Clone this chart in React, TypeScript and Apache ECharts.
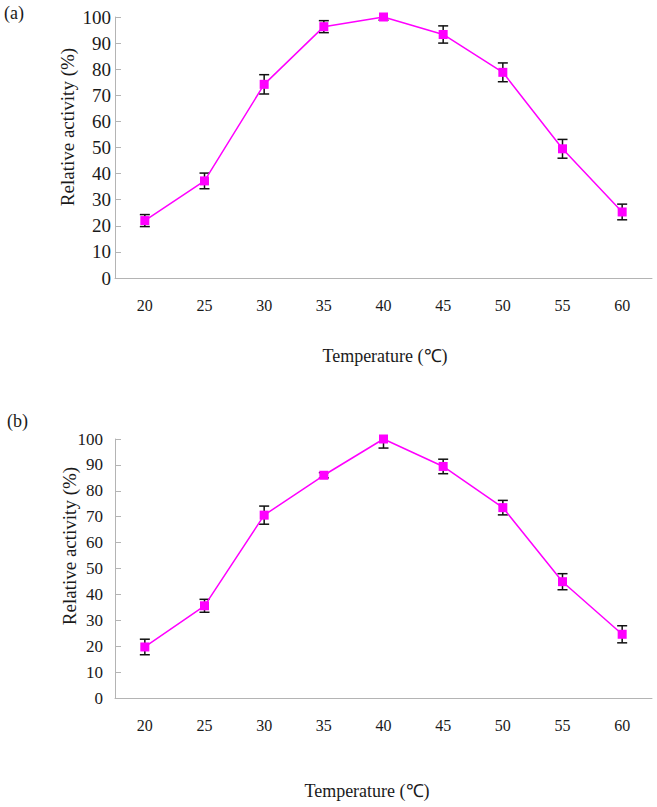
import React, { useEffect, useRef } from "react";
import * as echarts from "echarts";

const temperatures = ["20", "25", "30", "35", "40", "45", "50", "55", "60"];
const activityA = [22, 37.2, 74.2, 96.3, 100, 93.3, 78.8, 49.5, 25.3];
const errorA = [2.3, 3, 3.7, 2.3, 1.2, 3.3, 3.6, 3.6, 3];
const activityB = [19.7, 35.6, 70.6, 86, 100, 89.4, 73.5, 44.9, 24.6];
const errorB = [3, 2.5, 3.5, 1, 3.5, 2.8, 2.8, 3.1, 3.3];
const yTicks = [0, 10, 20, 30, 40, 50, 60, 70, 80, 90, 100];

const FONT = "Liberation Serif";
const AXIS_COLOR = "#b4b4b4";
const TEXT_COLOR = "#1a1a1a";
const MAGENTA = "#ff00ff";

function errRender(params: any, api: any) {
  const idx = api.value(0);
  const lo = api.coord([idx, api.value(1)]);
  const hi = api.coord([idx, api.value(2)]);
  const w = 5;
  const style = { stroke: "#111", lineWidth: 1.5 };
  return {
    type: "group",
    children: [
      { type: "line", shape: { x1: lo[0], y1: lo[1], x2: hi[0], y2: hi[1] }, style },
      { type: "line", shape: { x1: lo[0] - w, y1: lo[1], x2: lo[0] + w, y2: lo[1] }, style },
      { type: "line", shape: { x1: hi[0] - w, y1: hi[1], x2: hi[0] + w, y2: hi[1] }, style },
    ],
  };
}

function xAxisFor(gridIndex: number) {
  return {
    type: "category",
    gridIndex,
    data: temperatures,
    boundaryGap: true,
    axisLine: { lineStyle: { color: AXIS_COLOR, width: 1 } },
    axisTick: { inside: true, length: 5, lineStyle: { color: AXIS_COLOR } },
    axisLabel: { color: TEXT_COLOR, fontFamily: FONT, fontSize: 16, margin: 19 },
    splitLine: { show: false },
  };
}

function yAxisFor(gridIndex: number, fontSize: number, margin: number) {
  return {
    type: "value",
    gridIndex,
    min: yTicks[0],
    max: yTicks[yTicks.length - 1],
    interval: 10,
    axisLine: { show: true, lineStyle: { color: AXIS_COLOR, width: 1 } },
    axisTick: { show: true, inside: true, length: 6, lineStyle: { color: AXIS_COLOR } },
    axisLabel: { color: TEXT_COLOR, fontFamily: FONT, fontSize, margin },
    splitLine: { show: false },
  };
}

function txt(text: string, x: number, y: number, rotate = false, align = "center", size = 18) {
  return {
    type: "text",
    x,
    y,
    rotation: rotate ? Math.PI / 2 : 0,
    style: {
      text,
      fill: TEXT_COLOR,
      fontFamily: FONT,
      fontSize: size,
      align,
      verticalAlign: "middle",
    },
  };
}

export default function App() {
  const ref = useRef<HTMLDivElement>(null);
  useEffect(() => {
    if (!ref.current) return;
    const chart = echarts.init(ref.current, undefined, { renderer: "svg" });
    const errDataA = activityA.map((v, i) => [i, v - errorA[i], v + errorA[i]]);
    const errDataB = activityB.map((v, i) => [i, v - errorB[i], v + errorB[i]]);
    chart.setOption({
      animation: false,
      backgroundColor: "#ffffff",
      grid: [
        { left: 115, top: 17, width: 537, height: 261 },
        { left: 115, top: 439, width: 537, height: 259 },
      ],
      xAxis: [xAxisFor(0), xAxisFor(1)],
      yAxis: [yAxisFor(0, 19, 4), yAxisFor(1, 17, 12)],
      series: [
        {
          type: "custom",
          xAxisIndex: 0,
          yAxisIndex: 0,
          data: errDataA,
          renderItem: errRender,
          clip: true,
          z: 2,
        },
        {
          type: "line",
          xAxisIndex: 0,
          yAxisIndex: 0,
          data: activityA,
          symbol: "rect",
          symbolSize: 9,
          lineStyle: { color: MAGENTA, width: 1.5 },
          itemStyle: { color: MAGENTA },
          z: 3,
        },
        {
          type: "custom",
          xAxisIndex: 1,
          yAxisIndex: 1,
          data: errDataB,
          renderItem: errRender,
          clip: true,
          z: 2,
        },
        {
          type: "line",
          xAxisIndex: 1,
          yAxisIndex: 1,
          data: activityB,
          symbol: "rect",
          symbolSize: 9,
          lineStyle: { color: MAGENTA, width: 1.5 },
          itemStyle: { color: MAGENTA },
          z: 3,
        },
      ],
      graphic: [
        txt("(a)", 4, 13, false, "left"),
        txt("(b)", 7, 421, false, "left"),
        txt("Relative activity (%)", 67, 127, true, "center", 19),
        txt("Relative activity (%)", 69, 546, true, "center", 19),
        txt("Temperature (℃)", 385, 356),
        txt("Temperature (℃)", 367, 791),
      ],
    });
    return () => chart.dispose();
  }, []);
  return (
    <div
      ref={ref}
      style={{ position: "absolute", left: 0, top: 0, width: 657, height: 807 }}
    />
  );
}
